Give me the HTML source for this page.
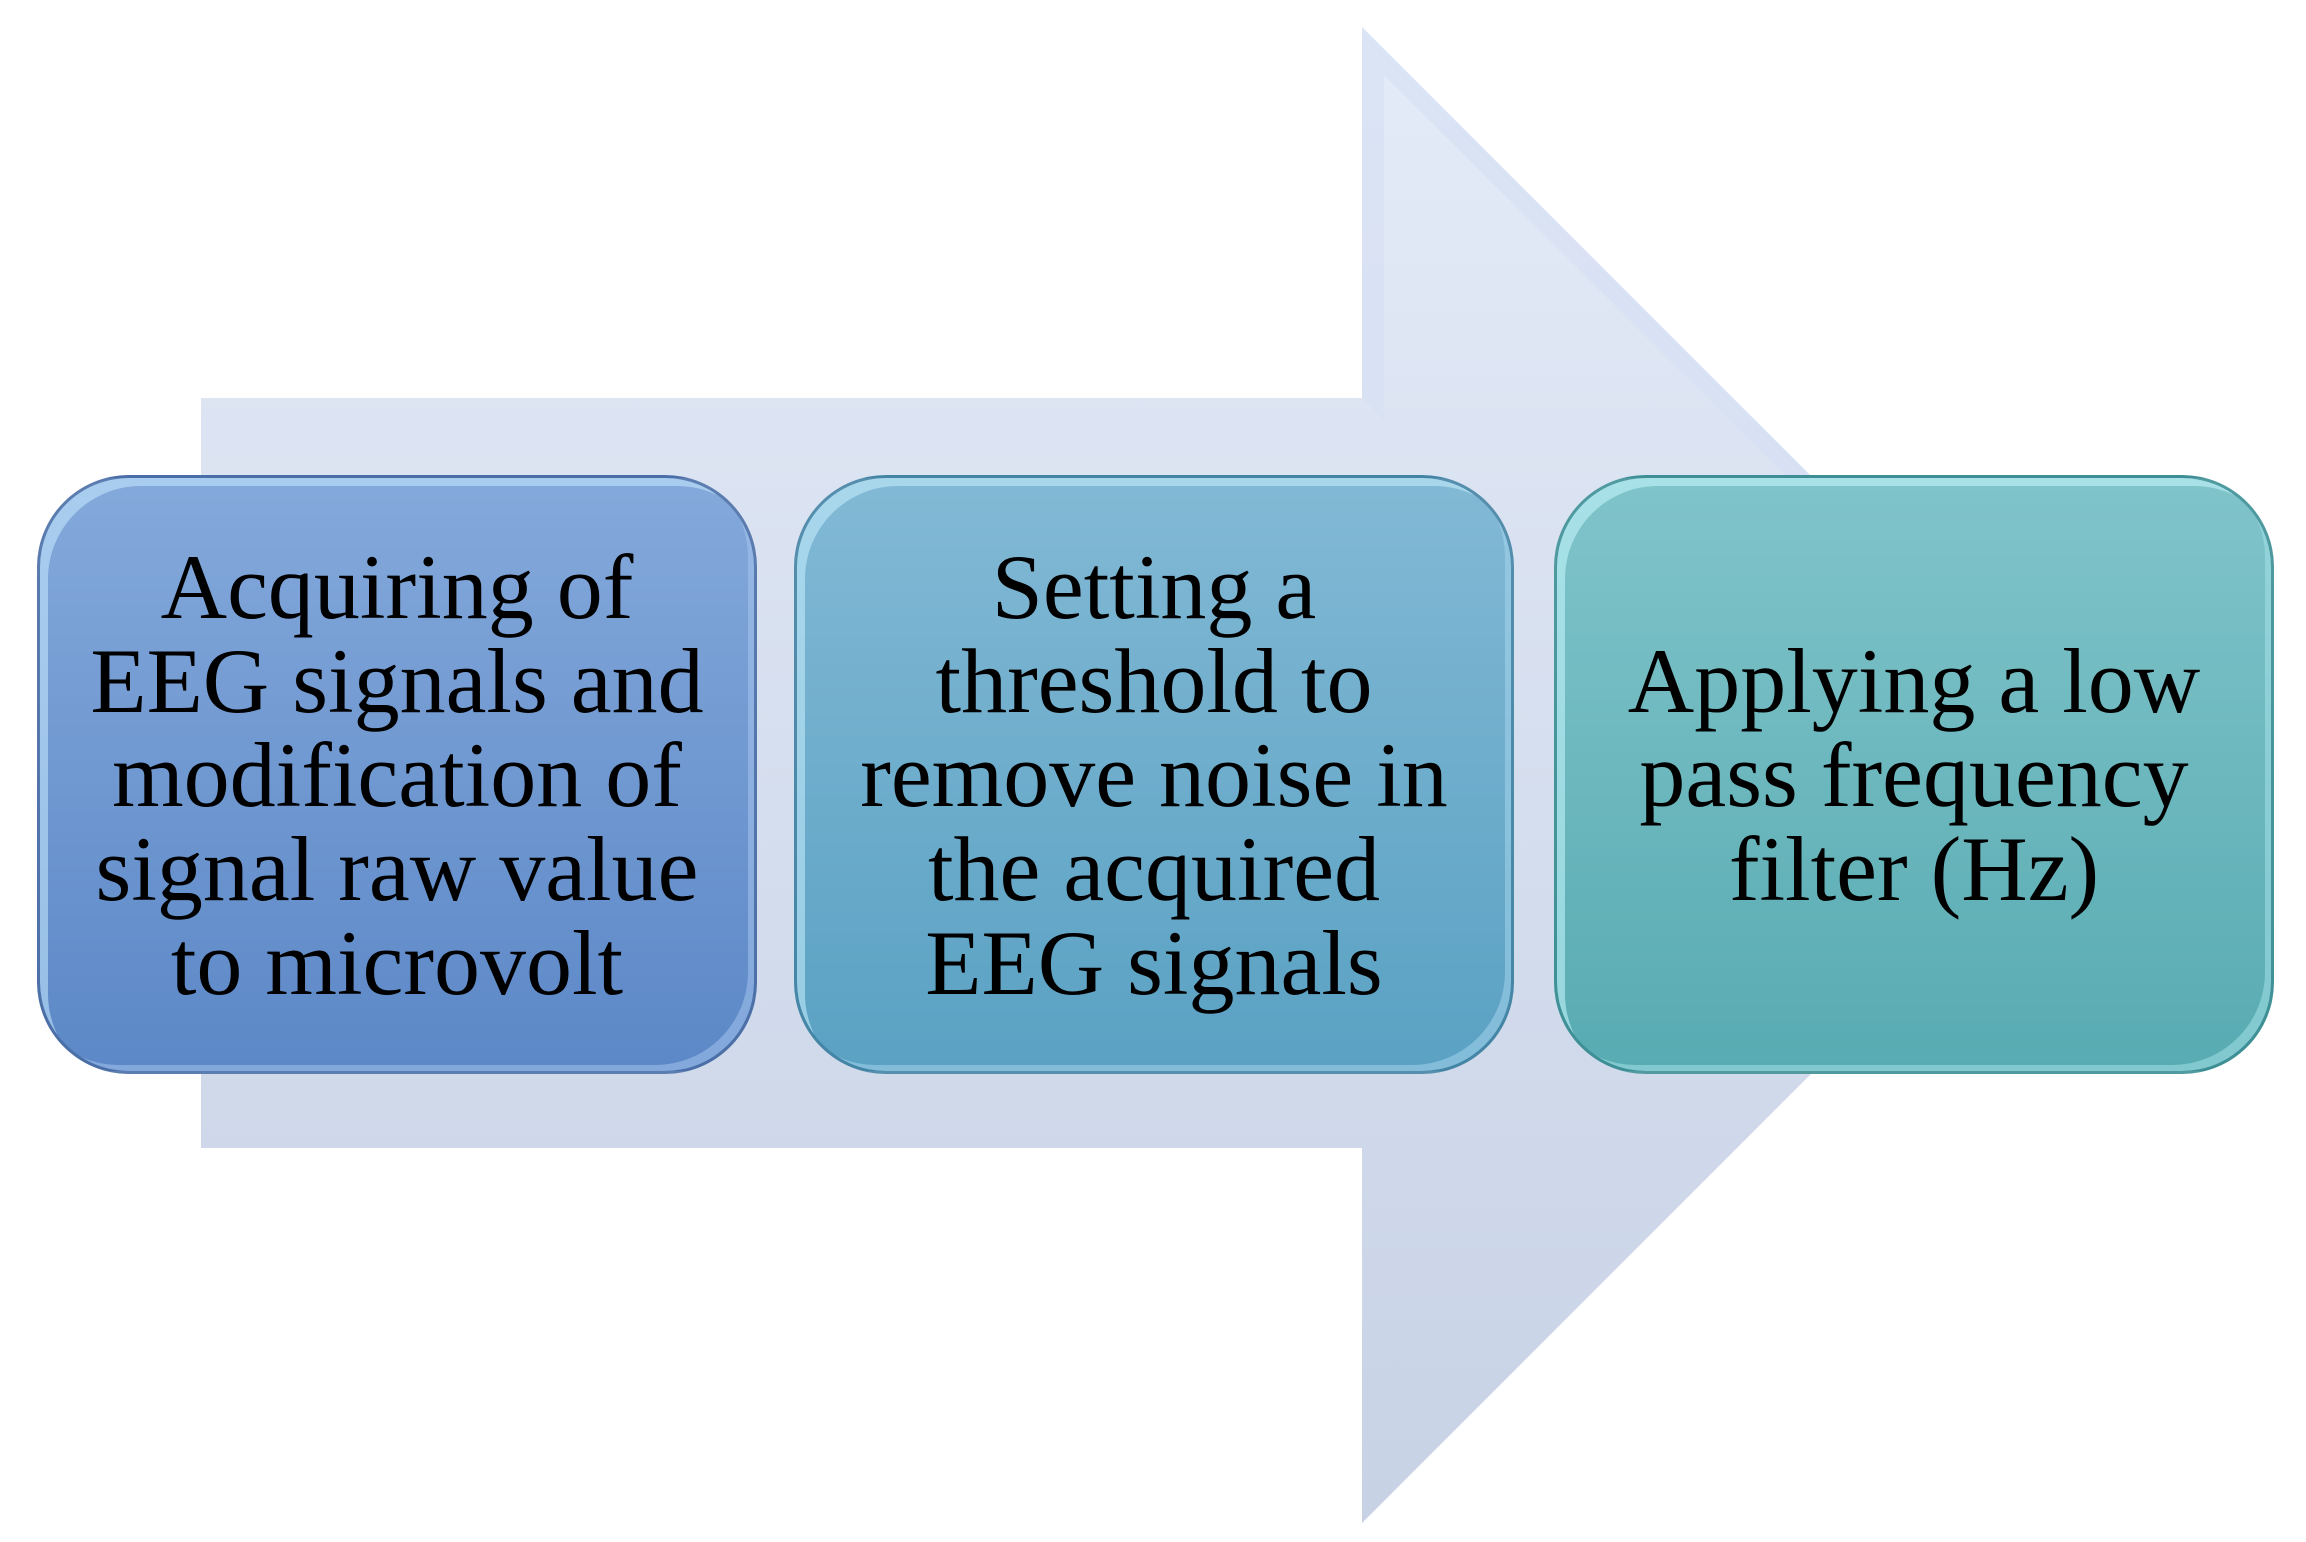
<!DOCTYPE html>
<html><head><meta charset="utf-8"><style>
html,body{margin:0;padding:0;background:#fff;}
body{width:2306px;height:1542px;position:relative;overflow:hidden;}
svg{position:absolute;left:0;top:0;}
.box{position:absolute;top:475px;height:599px;width:720px;box-sizing:border-box;border-radius:92px;
display:flex;align-items:center;justify-content:center;text-align:center;
font-family:"Liberation Serif",serif;font-size:92px;line-height:94px;color:#000;
border:3px solid rgba(60,90,140,0.55);}
.b1{left:37px;background:linear-gradient(#84a9db,#5c88c7);box-shadow:inset 12px 12px 0 -4px rgba(200,235,255,0.55),inset -10px -10px 0 -4px rgba(170,200,240,0.5);}
.b2{left:794px;background:linear-gradient(#82b9d5,#5aa1c3);box-shadow:inset 12px 12px 0 -4px rgba(200,240,255,0.55),inset -10px -10px 0 -4px rgba(170,215,240,0.5);border-color:rgba(50,110,140,0.55);}
.b3{left:1554px;background:linear-gradient(#80c4ca,#58abb2);box-shadow:inset 12px 12px 0 -4px rgba(200,250,255,0.55),inset -10px -10px 0 -4px rgba(170,230,235,0.5);border-color:rgba(40,120,125,0.55);}
</style></head><body>
<svg width="2306" height="1542" viewBox="0 0 2306 1542">
<defs><linearGradient id="g" x1="0" y1="0" x2="0" y2="1">
<stop offset="0" stop-color="#e4ebf8"/><stop offset="1" stop-color="#c7d2e5"/></linearGradient></defs>
<polygon points="201,398 1362,398 1362,27 2110,775 1362,1523 1362,1148 201,1148" fill="url(#g)"/>
<polygon points="1362,27 2110,775 2085,775 1384,75 1384,420 1362,398" fill="#d6e0f3" opacity="0.6"/>
</svg>
<div class="box b1">Acquiring of<br>EEG signals and<br>modification of<br>signal raw value<br>to microvolt</div>
<div class="box b2">Setting a<br>threshold to<br>remove noise in<br>the acquired<br>EEG signals</div>
<div class="box b3">Applying a low<br>pass frequency<br>filter (Hz)</div>
</body></html>
